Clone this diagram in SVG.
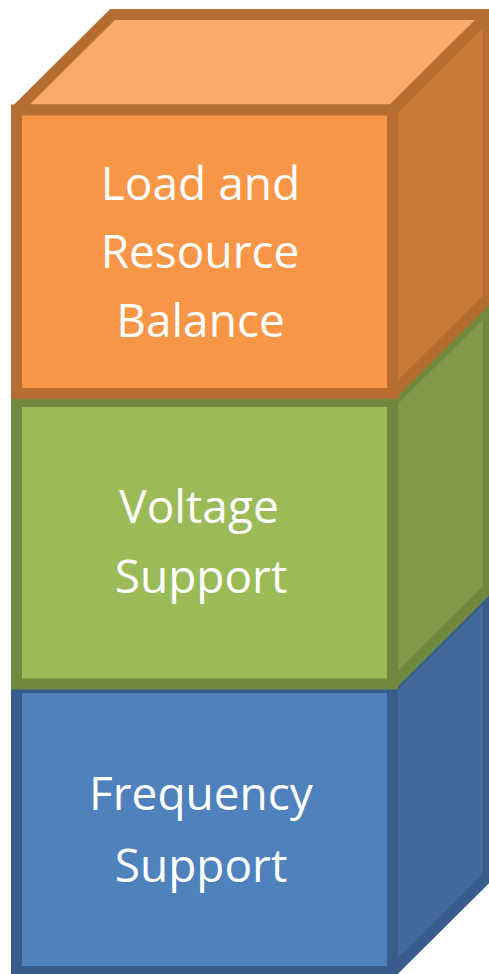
<svg xmlns="http://www.w3.org/2000/svg" width="489" height="974" viewBox="0 0 489 974">
<style>
  .face { stroke-width: 11; stroke-linejoin: miter; stroke-miterlimit: 1.5; }
  .o { stroke: #B66D31; }
  .g { stroke: #71893F; }
  .b { stroke: #385D8A; }
  .lbl { font-family: "Open Sans", "Liberation Sans", sans-serif; font-size: 46px; fill: #FFFFFF; text-anchor: middle; }
</style>
<rect width="489" height="974" fill="#FFFFFF"/>
<g id="frequency-support">
  <polygon class="face b" fill="#41699B" points="392.5,687.5 488.5,592 488.5,876 392.5,971.5"/>
  <rect class="face b" fill="#4F81BD" x="16.5" y="687.5" width="376" height="284"/>
  <text class="lbl" x="201" y="810">Frequency</text>
  <text class="lbl" x="201" y="882">Support</text>
</g>
<g id="voltage-support">
  <polygon class="face g" fill="#B8CE8B" points="16.5,401.5 112.5,306 488.5,306 392.5,401.5"/>
  <polygon class="face g" fill="#7F9A48" points="392.5,401.5 488.5,306 488.5,588.5 392.5,684"/>
  <rect class="face g" fill="#9BBB59" x="16.5" y="401.5" width="376" height="282.5"/>
  <text class="lbl" x="199" y="523">Voltage</text>
  <text class="lbl" x="201" y="593">Support</text>
</g>
<g id="load-resource-balance">
  <polygon class="face o" fill="#F9AC6B" points="16.5,110 112.5,14.5 488.5,14.5 392.5,110"/>
  <polygon class="face o" fill="#C87B38" points="392.5,110 488.5,14.5 488.5,298 392.5,393.5"/>
  <polygon fill="#B66D31" points="474,9 489,9 489,28 483,28 483,20 474,20"/>
  <rect class="face o" fill="#F79646" x="16.5" y="110" width="376" height="283.5"/>
  <text class="lbl" x="200.5" y="200">Load and</text>
  <text class="lbl" x="200" y="268">Resource</text>
  <text class="lbl" x="200.5" y="337">Balance</text>
</g>
</svg>
